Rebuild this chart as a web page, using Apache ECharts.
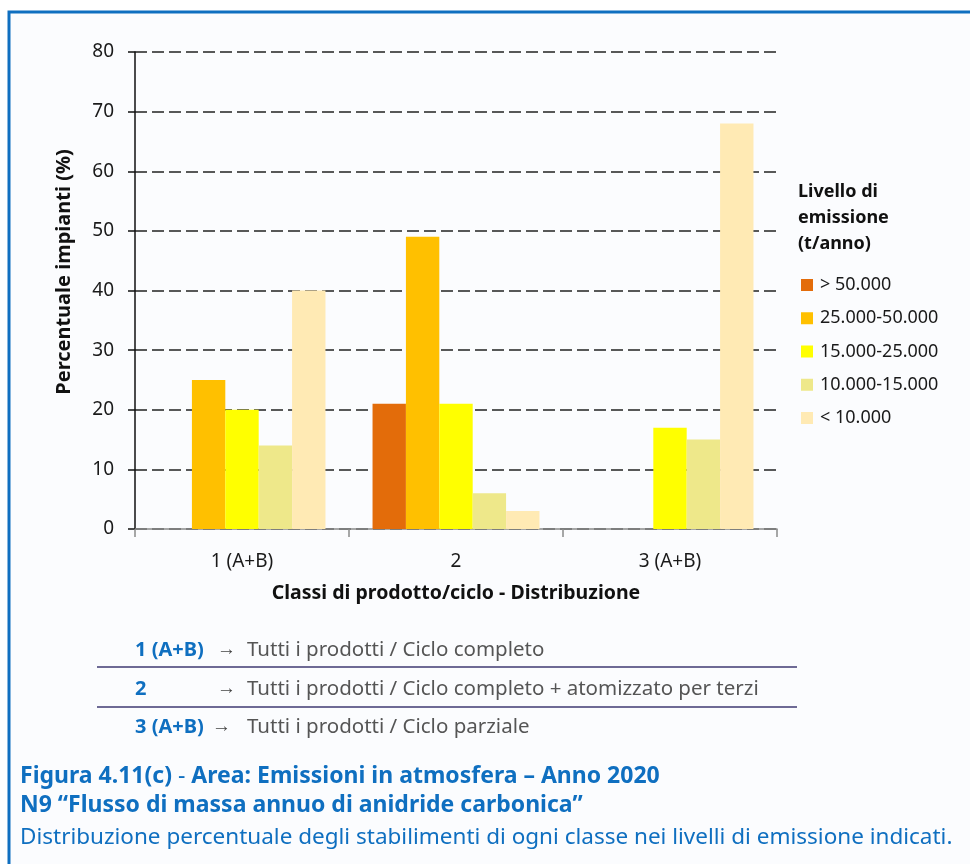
<!DOCTYPE html>
<html>
<head>
<meta charset="utf-8">
<script src="https://cdn.jsdelivr.net/npm/echarts@6/dist/echarts.min.js"></script>
<style>
  html, body { margin: 0; padding: 0; background: #ffffff; }
  #chart { width: 970px; height: 864px; }
</style>
</head>
<body>
<div id="chart"></div>
<script>
// ---- data ----
const categories = ['1 (A+B)', '2', '3 (A+B)'];
const levelNames = ['> 50.000', '25.000-50.000', '15.000-25.000', '10.000-15.000', '< 10.000'];
const over50 = [0, 21, 0];
const from25to50 = [25, 49, 0];
const from15to25 = [20, 21, 17];
const from10to15 = [14, 6, 15];
const under10 = [40, 3, 68];
const yTicks = [0, 10, 20, 30, 40, 50, 60, 70, 80];
const noteKeys = ['1 (A+B)', '2', '3 (A+B)'];
const noteTexts = [
  'Tutti i prodotti / Ciclo completo',
  'Tutti i prodotti / Ciclo completo + atomizzato per terzi',
  'Tutti i prodotti / Ciclo parziale'
];
const legendTitle = ['Livello di', 'emissione', '(t/anno)'];
const xName = 'Classi di prodotto/ciclo - Distribuzione';
const yName = 'Percentuale impianti (%)';
const captionA = 'Figura 4.11(c)';
const captionB = 'Area: Emissioni in atmosfera \u2013 Anno 2020';
const captionLine2 = 'N9 \u201CFlusso di massa annuo di anidride carbonica\u201D';
const captionLine3 = 'Distribuzione percentuale degli stabilimenti di ogni classe nei livelli di emissione indicati.';

const colors = ['#E36C0A', '#FFC000', '#FFFF00', '#EEE88A', '#FFEAB4'];
const seriesData = [over50, from25to50, from15to25, from10to15, under10];

const FONT = '"Noto Sans", "Open Sans", sans-serif';
const BLUE = '#0F6FC0';

const chart = echarts.init(document.getElementById('chart'), null, { renderer: 'canvas' });

const graphics = [];
// frame
graphics.push({
  type: 'rect', z: -10, silent: true,
  shape: { x: 9, y: 12, width: 1000, height: 900 },
  style: { fill: '#FBFCFE', stroke: BLUE, lineWidth: 3 }
});
// y axis title
graphics.push({
  type: 'text', z: 10,
  x: 64, y: 272, rotation: Math.PI / 2,
  style: { x: 0, y: 0, text: yName, fontFamily: FONT, fontSize: 20, fontWeight: 'bold', fill: '#111', verticalAlign: 'middle', align: 'center' }
});
// legend title
legendTitle.forEach((t, i) => {
  graphics.push({
    type: 'text', z: 10,
    style: { x: 798, y: 192 + i * 26, text: t, fontFamily: FONT, fontSize: 18, fontWeight: 'bold', fill: '#111', verticalAlign: 'middle', align: 'left' }
  });
});
// notes under chart
const noteY = [650, 689, 727];
const arrowX = [217, 217, 212];
noteKeys.forEach((k, i) => {
  graphics.push({
    type: 'text', z: 10,
    style: { x: 135, y: noteY[i], text: k, fontFamily: FONT, fontSize: 20, fontWeight: 'bold', fill: BLUE, verticalAlign: 'middle', align: 'left' }
  });
  graphics.push({
    type: 'text', z: 10,
    style: { x: arrowX[i], y: noteY[i], text: '\u2192', fontFamily: FONT, fontSize: 19, fill: '#444', verticalAlign: 'middle', align: 'left' }
  });
  graphics.push({
    type: 'text', z: 10,
    style: { x: 247, y: noteY[i], text: noteTexts[i], fontFamily: FONT, fontSize: 20.5, fill: '#555', verticalAlign: 'middle', align: 'left' }
  });
});
[667, 707].forEach(y => {
  graphics.push({
    type: 'line', z: 10,
    shape: { x1: 97, y1: y, x2: 797, y2: y },
    style: { stroke: '#6E6A95', lineWidth: 2 }
  });
});
// caption
graphics.push({
  type: 'text', z: 10,
  style: {
    x: 20, y: 776, verticalAlign: 'middle', align: 'left',
    text: '{b|' + captionA + '}{r| - }{b|' + captionB + '}',
    rich: {
      b: { fontFamily: FONT, fontSize: 23, fontWeight: 'bold', fill: BLUE },
      r: { fontFamily: FONT, fontSize: 23, fill: BLUE }
    }
  }
});
graphics.push({
  type: 'text', z: 10,
  style: { x: 20, y: 805, text: captionLine2, fontFamily: FONT, fontSize: 23, fontWeight: 'bold', fill: BLUE, verticalAlign: 'middle', align: 'left' }
});
graphics.push({
  type: 'text', z: 10,
  style: { x: 20, y: 838, text: captionLine3, fontFamily: FONT, fontSize: 22.5, fill: BLUE, verticalAlign: 'middle', align: 'left' }
});

const option = {
  backgroundColor: '#ffffff',
  animation: false,
  textStyle: { fontFamily: FONT },
  grid: { left: 135, top: 52, right: 193, bottom: 335, containLabel: false },
  legend: {
    orient: 'vertical',
    left: 796, top: 271,
    itemWidth: 12, itemHeight: 12, itemGap: 15.25,
    icon: 'rect',
    data: levelNames,
    textStyle: { fontFamily: FONT, fontSize: 18, lineHeight: 18, color: '#1a1a1a', padding: [0, 0, 0, 2] }
  },
  xAxis: {
    type: 'category',
    data: categories,
    axisLine: { show: true, lineStyle: { color: '#8a8a8a', width: 1.5 } },
    axisTick: { show: true, length: 8, inside: false, lineStyle: { color: '#8a8a8a', width: 1.5 } },
    axisLabel: { fontFamily: FONT, fontSize: 19, color: '#1a1a1a', margin: 23 },
    name: xName,
    nameLocation: 'middle',
    nameGap: 54,
    nameTextStyle: { fontFamily: FONT, fontSize: 19.5, fontWeight: 'bold', color: '#111' },
    splitLine: { show: false }
  },
  yAxis: {
    type: 'value',
    min: yTicks[0], max: yTicks[yTicks.length - 1], interval: 10,
    axisLine: { show: true, lineStyle: { color: '#111', width: 1.5 } },
    axisTick: { show: true, length: 7, inside: false, lineStyle: { color: '#111', width: 1.5 } },
    axisLabel: { fontFamily: FONT, fontSize: 19, color: '#1a1a1a', margin: 21 },
    splitLine: { show: true, lineStyle: { color: '#222', width: 1.5, type: [12, 5] } }
  },
  series: levelNames.map((n, i) => ({
    name: n,
    type: 'bar',
    data: seriesData[i],
    barGap: '0%',
    barCategoryGap: '22%',
    itemStyle: { color: colors[i] },
    emphasis: { disabled: true }
  })),
  graphic: graphics
};
chart.setOption(option);
</script>
</body>
</html>
